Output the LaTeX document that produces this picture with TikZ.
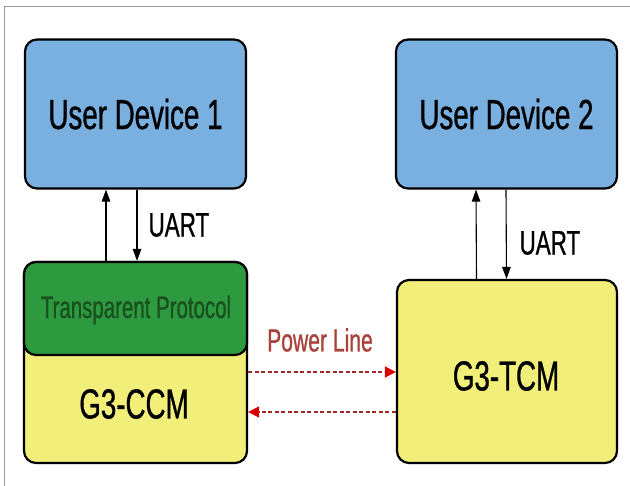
\documentclass[tikz,border=0pt]{standalone}
\usepackage{fontspec}
\newfontfamily\cond[FakeStretch=0.66,FakeBold=0.8]{Liberation Sans}
\usetikzlibrary{arrows.meta}

\definecolor{devblue}{RGB}{122,176,224}
\definecolor{protgreen}{RGB}{46,154,64}
\definecolor{modyellow}{RGB}{242,238,122}
\definecolor{txtgreen}{RGB}{24,80,30}
\definecolor{plred}{RGB}{168,66,58}
\definecolor{dashred}{RGB}{160,40,40}

\tikzset{
  box/.style={draw=black, line width=2.2pt, rounded corners=12pt, inner sep=0pt},
  devbox/.style={box, fill=devblue, minimum width=221pt, minimum height=149pt},
  uart/.style={line width=1.1pt, -{Triangle[length=12pt,width=8.5pt]}},
  plc/.style={draw=dashred, line width=1.6pt, dash pattern=on 4pt off 2.5pt,
    -{Triangle[length=11pt,width=11pt,color=red!85!black]}},
}

\begin{document}
\begin{tikzpicture}[x=1pt, y=-1pt]
        \useasboundingbox (0,0) rectangle (630,486);

        % Page frame
        \draw[gray!80, line width=1pt] (630,7) -- (4,7) -- (4,486);

        % User devices
        \node[devbox] (ud1) at (135.5,114) {};
        \node[devbox] (ud2) at (506.5,114) {};
        \node at (ud1) {\cond\fontsize{42}{44}\selectfont User Device 1};
        \node at (ud2) {\cond\fontsize{42}{44}\selectfont User Device 2};

        % G3-CCM with transparent protocol layer
        \node[box, fill=modyellow, minimum width=223pt, minimum height=201pt] (ccm) at (135.5,362.5) {};
        \node[box, fill=protgreen, minimum width=223pt, minimum height=93pt] (proto) at (135.5,308.5) {};
        \node[text=txtgreen] (protolbl) at (136,310) {\cond\fontsize{31}{33}\selectfont Transparent Protocol};
        \node (ccmlbl) at (134,404) {\cond\fontsize{42}{44}\selectfont G3-CCM};

        % G3-TCM
        \node[box, fill=modyellow, minimum width=220pt, minimum height=183pt] (tcm) at (507,371.5) {};
        \node (tcmlbl) at (506,376) {\cond\fontsize{42}{44}\selectfont G3-TCM};

        % UART links
        \draw[uart] ([xshift=-29.5pt]proto.north) -- ([xshift=-29.5pt]ud1.south);
        \draw[uart] ([xshift=1.5pt]ud1.south) -- ([xshift=1.5pt]proto.north);
        \node[anchor=west] (uart1) at (145,225) {\cond\fontsize{34}{36}\selectfont UART};

        \draw[uart] ([xshift=-30.5pt]tcm.north) -- ([xshift=-30.5pt]ud2.south);
        \draw[uart] ([xshift=-0.5pt]ud2.south) -- ([xshift=-0.5pt]tcm.north);
        \node[anchor=west] (uart2) at (516,243) {\cond\fontsize{34}{36}\selectfont UART};

        % Power line
        \node[text=plred] (pl) at (320,340) {\cond\fontsize{32}{34}\selectfont Power Line};
        \draw[plc] (ccm.east |- 0,372) -- (tcm.west |- 0,372);
        \draw[plc] (tcm.west |- 0,412) -- (ccm.east |- 0,412);

    \end{tikzpicture}
\end{document}
